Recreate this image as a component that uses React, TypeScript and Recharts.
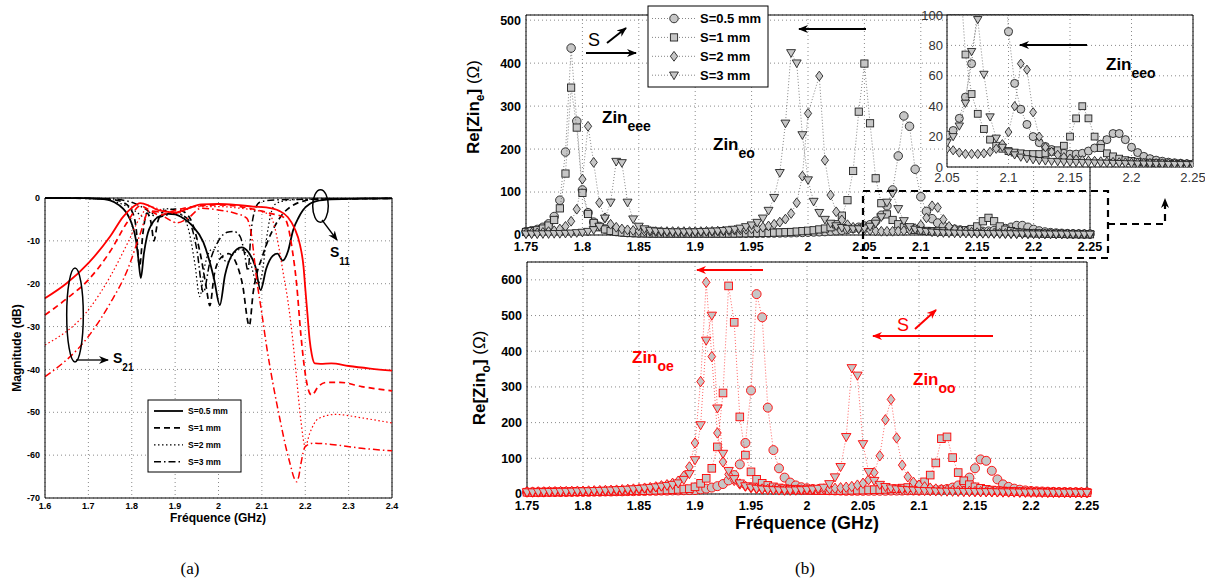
import React from 'react';
import {
  LineChart, Line, ScatterChart, Scatter, XAxis, YAxis, CartesianGrid, ReferenceLine,
} from 'recharts';

const SANS = '"Liberation Sans", Arial, Helvetica, sans-serif';
const SERIF = '"Liberation Serif", "DejaVu Serif", serif';

// ---------- (a) magnitude of S11 / S21 ----------
const FREQ_TICKS_A = [1.6, 1.7, 1.8, 1.9, 2, 2.1, 2.2, 2.3, 2.4];
const DB_TICKS = [-70, -60, -50, -40, -30, -20, -10, 0];
const SPACINGS = ['S=0.5 mm', 'S=1 mm', 'S=2 mm', 'S=3 mm'];

// S11, black
const s11F05 = [1.6, 1.7, 1.72, 1.74, 1.76, 1.78, 1.79, 1.8, 1.81, 1.815, 1.821, 1.828, 1.835, 1.85, 1.87, 1.885, 1.9, 1.92, 1.94, 1.965, 1.98, 1.99, 2.003, 2.015, 2.03, 2.053, 2.07, 2.085, 2.097, 2.11, 2.125, 2.136, 2.148, 2.16, 2.172, 2.185, 2.195, 2.21, 2.22, 2.25, 2.3, 2.4];
const s11Db05 = [0, -0.05, -0.15, -0.3, -1, -2.5, -3.8, -6, -10, -14, -18.7, -13, -9, -5.5, -4, -3.7, -3.8, -4.8, -6.5, -10.3, -15, -19, -25, -18, -13.5, -11.5, -12.8, -16, -21.5, -16.5, -13.5, -13, -14.6, -12.5, -7.5, -4.5, -2.8, -1.4, -0.9, -0.4, -0.2, -0.1];
const s11F1 = [1.6, 1.7, 1.75, 1.78, 1.8, 1.81, 1.818, 1.826, 1.835, 1.845, 1.851, 1.86, 1.875, 1.9, 1.92, 1.94, 1.96, 1.972, 1.98, 1.99, 2.005, 2.023, 2.04, 2.055, 2.071, 2.08, 2.09, 2.1, 2.11, 2.13, 2.15, 2.17, 2.2, 2.22, 2.3, 2.4];
const s11Db1 = [0, -0.1, -0.3, -1, -3, -7, -16, -8, -3.5, -6, -10, -5.5, -3, -2.6, -3.2, -6, -14, -21, -25.1, -18, -14, -13, -15, -20, -29.8, -22, -17, -14, -11, -6.5, -3.5, -1.8, -0.6, -0.3, -0.2, -0.1];
const s11F2 = [1.6, 1.72, 1.76, 1.79, 1.81, 1.83, 1.85, 1.88, 1.91, 1.93, 1.945, 1.957, 1.968, 1.985, 2.0, 2.02, 2.035, 2.05, 2.07, 2.09, 2.1, 2.11, 2.12, 2.13, 2.15, 2.2, 2.4];
const s11Db2 = [0, -0.2, -0.8, -2, -3.2, -4.5, -3.5, -2.5, -3.5, -7, -15, -23, -16, -12, -12.5, -15, -13, -12, -14, -20, -18, -10, -4, -1.5, -0.7, -0.3, -0.1];
const s11F3 = [1.6, 1.75, 1.8, 1.83, 1.86, 1.88, 1.9, 1.93, 1.95, 1.965, 1.98, 2.0, 2.02, 2.035, 2.05, 2.06, 2.068, 2.075, 2.085, 2.095, 2.12, 2.2, 2.4];
const s11Db3 = [0, -0.2, -1, -2.5, -4.5, -4, -3.5, -5, -12, -22, -15, -10, -8, -7.8, -9, -13, -17, -8, -2.5, -1, -0.5, -0.3, -0.1];

// S21, red
const s21F05 = [1.6, 1.65, 1.7, 1.75, 1.78, 1.8, 1.82, 1.84, 1.86, 1.88, 1.9, 1.93, 1.96, 2.0, 2.04, 2.08, 2.11, 2.14, 2.16, 2.175, 2.188, 2.196, 2.2, 2.205, 2.21, 2.215, 2.222, 2.235, 2.26, 2.3, 2.35, 2.4];
const s21Db05 = [-23.4, -19.9, -15.2, -9, -4.4, -2.3, -1.2, -1.8, -2.8, -3.2, -3.4, -2.4, -1.5, -1.4, -1.6, -2, -2.2, -3, -4.5, -7, -11, -16, -21, -27, -33, -36.5, -38.6, -38.7, -38.6, -39.2, -39.8, -40.3];
const s21F1 = [1.6, 1.65, 1.7, 1.75, 1.79, 1.82, 1.84, 1.865, 1.89, 1.92, 1.95, 2.0, 2.05, 2.08, 2.12, 2.15, 2.16, 2.17, 2.18, 2.19, 2.2, 2.21, 2.215, 2.23, 2.25, 2.28, 2.33, 2.4];
const s21Db1 = [-27.3, -23.5, -19.1, -12.5, -5.6, -1.8, -2.8, -4, -3.2, -2.4, -1.9, -1.6, -2, -2.6, -3.6, -4.5, -6.5, -12, -20, -32, -41, -45.5, -46, -44, -43, -43, -44, -45];
const s21F2 = [1.6, 1.7, 1.75, 1.79, 1.82, 1.84, 1.87, 1.9, 1.95, 2.0, 2.05, 2.1, 2.12, 2.13, 2.14, 2.15, 2.16, 2.17, 2.18, 2.19, 2.2, 2.21, 2.23, 2.27, 2.33, 2.4];
const s21Db2 = [-34.3, -26.1, -18.4, -10.6, -4.4, -2, -2.8, -3.6, -2, -2, -2.4, -3.2, -4.2, -7, -12, -18, -24, -32, -42, -52, -58, -55, -51.5, -50.5, -51.3, -52.5];
const s21F3 = [1.6, 1.7, 1.75, 1.79, 1.82, 1.84, 1.86, 1.88, 1.905, 1.93, 1.96, 2.0, 2.04, 2.065, 2.075, 2.088, 2.1, 2.111, 2.125, 2.142, 2.155, 2.165, 2.175, 2.18, 2.185, 2.19, 2.2, 2.22, 2.26, 2.33, 2.4];
const s21Db3 = [-41.7, -32.3, -24.6, -16.8, -8.2, -3, -3.2, -4.7, -5.8, -4.7, -2.4, -2.8, -3.6, -4.7, -8, -19, -27, -34.7, -43, -51.8, -58, -62, -65.5, -66.2, -65, -62, -58, -57.2, -57.5, -58.4, -59];

const S11_CURVES = [[s11F05, s11Db05], [s11F1, s11Db1], [s11F2, s11Db2], [s11F3, s11Db3]];
const S21_CURVES = [[s21F05, s21Db05], [s21F1, s21Db1], [s21F2, s21Db2], [s21F3, s21Db3]];
const DASHES = [undefined, '6 4', '1.5 2.5', '7 3 1.5 3'];
const WIDTHS = [1.8, 1.7, 1.2, 1.5];

// ---------- (b) Re[Zin] vs frequency, 1.75 -> 2.25 GHz every 5 MHz ----------
const F_START = 1.75;
const F_STEP = 0.005;
const FREQ_TICKS_B = [1.75, 1.8, 1.85, 1.9, 1.95, 2, 2.05, 2.1, 2.15, 2.2, 2.25];
const ZE_TICKS = [0, 100, 200, 300, 400, 500];
const ZO_TICKS = [0, 100, 200, 300, 400, 500, 600];
const INSET_F_TICKS = [2.05, 2.1, 2.15, 2.2, 2.25];
const INSET_Z_TICKS = [0, 20, 40, 60, 80, 100];
const MARKERS = ['circle', 'square', 'diamond', 'triangle'];

// even mode, Re[Zin_e]  (null = point above the axis limit)
const zinE05 = [
  8, 10, 13, 18, 26, 43, 81, 193, 435, 265,
  105, 52, 30, 20, 14, 10, 8, 6.5, 5.5, 5,
  4.5, 4.5, 4, 4, 4, 4, 4, 4, 4, 4,
  4, 4, 4, 4, 4, 4, 4, 4, 4, 4,
  4, 4, 4.2, 4.4, 4.6, 4.8, 5, 5.3, 5.6, 6,
  6.5, 7, 7.5, 8, 9, 10, 11, 13, 15, 18,
  21, 24, 32, 46, 68, 105, 184, 277, 253, 153,
  89, 55, 38, 28, 20, 16, 13.5, 11.5, 10, 9,
  8.5, 8.5, 9, 10.5, 12.5, 15, 18, 22, 22, 18,
  13, 9.5, 7, 5.5, 4.5, 3.8, 3.2, 2.8, 2.5, 2.2,
  2,
];
const zinE1 = [
  7, 9, 11, 15, 22, 35, 62, 143, 343, 250,
  98, 49, 28, 18, 13, 9.5, 7.5, 6, 5, 4.5,
  4, 4, 3.5, 3.5, 3.5, 3.5, 3.5, 3.5, 3.5, 3.5,
  3.5, 3.5, 3.5, 3.5, 3.5, 3.5, 3.5, 3.5, 4, 4,
  4.5, 4.5, 5, 5, 5.5, 6, 6.5, 7, 8, 9,
  10, 11, 13, 15, 18, 25, 45, 81, 149, 287,
  399, 260, 132, 74, 48, 35, 25, 18, 14, 12,
  10.5, 9.5, 9, 8.5, 8.5, 8.5, 9, 10, 11, 14,
  20, 32, 40, 32, 20, 12.5, 9, 7, 5.5, 4.5,
  4, 3.5, 3, 2.8, 2.6, 2.4, 2.2, 2.1, 2, 1.9,
  1.8,
];
const zinE2 = [
  4, 4.5, 5, 6, 8, 10, 14, 20, 32, 60,
  130, 253, 169, 75, 40, 25, 18, 14, 12, 10.5,
  9.5, 9, 8.5, 8, 8, 8, 8, 8, 8, 8,
  8, 8, 8.5, 8.5, 9, 9.5, 10, 11, 12, 13,
  14.5, 16, 18, 21, 25, 30, 37, 50, 75, 137,
  283, null, 370, 174, 93, 54, 35, 24, 18, 14,
  12, 11, 9.5, 8.6, 8.6, 8.6, 9, 10, 12, 15,
  23, 40, 68, 64, 36, 20, 13, 10, 8, 6.5,
  5.5, 5, 4.5, 4.2, 4, 3.7, 3.5, 3.3, 3.1, 3,
  2.9, 2.8, 2.7, 2.6, 2.5, 2.4, 2.3, 2.2, 2.1, 2,
  2,
];
const zinE3 = [
  2, 2, 2, 2.5, 2.5, 3, 3, 3.5, 4, 5,
  6, 8, 12, 20, 39, 76, 171, 168, 76, 37,
  20, 14, 10.5, 9, 8, 7.5, 7, 7, 7, 7,
  7, 7.5, 8, 8.5, 9, 10, 11.5, 13, 15.5, 19,
  23, 29, 39, 57, 87, 145, 260, 424, 400, 233,
  128, 78, 52, 36, 27, 21, 17, 15, 14, 14,
  16, 20, 27, 42, 76, 97, 61, 33, 19, 13,
  10, 8, 6.5, 5.5, 4.8, 4.3, 4, 3.7, 3.5, 3.3,
  3.1, 3, 2.9, 2.8, 2.7, 2.6, 2.5, 2.4, 2.3, 2.2,
  2.1, 2, 2, 1.9, 1.8, 1.8, 1.7, 1.7, 1.6, 1.6,
  1.5,
];

// odd mode, Re[Zin_o]
const zinO05 = [
  5, 5, 5, 5, 5.5, 5.5, 5.5, 5.5, 6, 6,
  6, 6, 6.5, 6.5, 7, 7, 7.5, 7.5, 8, 8,
  8.5, 8.5, 9, 9, 9.5, 9.5, 10, 10, 10.5, 11,
  11, 13, 15, 18, 22, 28, 38, 53, 83, 143,
  290, 560, 495, 242, 123, 72, 46, 32, 24, 19,
  16, 14, 12.5, 11.5, 10.5, 10, 9.5, 9, 9, 9,
  9, 9, 9, 9, 9, 9.5, 9.5, 9.5, 10, 10,
  10, 10.5, 11, 11.5, 12.5, 14, 18, 24, 32, 46,
  72, 97, 93, 65, 41, 27, 20, 15, 12, 10,
  8.5, 7.5, 7, 6.5, 6, 5.5, 5.5, 5, 5, 4.5,
  4.5,
];
const zinO1 = [
  5, 5, 5, 5.5, 5.5, 5.5, 6, 6, 6, 6.5,
  6.5, 6.5, 7, 7, 7.5, 7.5, 8, 8, 8.5, 9,
  9, 9.5, 10, 10.5, 11, 11.5, 12, 13, 14, 15,
  20, 30, 44, 72, 132, 283, 583, 481, 216, 109,
  62, 41, 30, 24, 20, 17, 15, 13.5, 12.5, 11.5,
  11, 10.5, 10, 10, 10, 10, 10, 10.5, 10.5, 11,
  11, 11.5, 12, 12.5, 13, 14, 15, 16.5, 18, 20,
  25, 34, 53, 87, 155, 160, 102, 60, 37, 26,
  20, 16, 13, 11, 9.5, 8.5, 7.5, 7, 6.5, 6,
  5.5, 5.5, 5, 5, 4.5, 4.5, 4.5, 4, 4, 4,
  4,
];
const zinO2 = [
  5.5, 5.5, 6, 6, 6.5, 6.5, 7, 7, 7.5, 8,
  8, 8.5, 9, 9.5, 10, 10.5, 11, 12, 13, 14,
  15, 16.5, 18, 20, 23, 26, 30, 36, 50, 76,
  143, 315, 593, 385, 171, 90, 55, 38, 28, 22,
  18, 15.5, 14, 13, 12, 11.5, 11, 11, 11, 11.5,
  12, 12.5, 13, 14, 15, 16, 17.5, 19, 21, 25,
  30, 40, 60, 107, 208, 265, 157, 81, 48, 33,
  25, 20, 16.5, 14, 12, 10.5, 9.5, 8.5, 8, 7.5,
  7, 6.5, 6.5, 6, 6, 5.5, 5.5, 5.5, 5, 5,
  5, 5, 4.5, 4.5, 4.5, 4.5, 4, 4, 4, 4,
  4,
];
const zinO3 = [
  5, 5, 5.5, 5.5, 6, 6, 6.5, 6.5, 7, 7.5,
  8, 8, 8.5, 9, 9.5, 10, 11, 11.5, 12.5, 13.5,
  14.5, 16, 17.5, 19, 21, 23, 26, 30, 40, 56,
  95, 193, 430, 500, 240, 113, 65, 42, 30, 22,
  18, 15, 13, 12, 11, 10.5, 10, 10, 10.5, 11,
  12, 13, 15, 18, 28, 47, 76, 160, 353, 332,
  140, 62, 37, 26, 20, 16, 13.5, 12, 11, 10,
  9, 8.5, 8, 7.5, 7, 7, 6.5, 6.5, 6, 6,
  6, 5.5, 5.5, 5.5, 5, 5, 5, 5, 4.5, 4.5,
  4.5, 4.5, 4.5, 4, 4, 4, 4, 4, 4, 3.5,
  3.5,
];

const ZIN_E = [zinE05, zinE1, zinE2, zinE3];
const ZIN_O = [zinO05, zinO1, zinO2, zinO3];

const toLine = (f: number[], db: number[]) => f.map((x, i) => ({ f: x, db: db[i] }));
const toPoints = (vals: (number | null)[]) =>
  vals.flatMap((v, i) => (v == null ? [] : [{ f: +(F_START + i * F_STEP).toFixed(3), v }]));

function drawMarker(kind: string, cx: number, cy: number, size: number, stroke: string) {
  const r = size / 2;
  const p = { fill: '#c6c6c6', stroke, strokeWidth: 0.9 };
  if (kind === 'circle') return <circle cx={cx} cy={cy} r={r} {...p} />;
  if (kind === 'square') {
    const h = r * 0.85;
    return <rect x={cx - h} y={cy - h} width={2 * h} height={2 * h} {...p} />;
  }
  if (kind === 'diamond') {
    return <polygon points={`${cx},${cy - r * 1.15} ${cx + r * 0.85},${cy} ${cx},${cy + r * 1.15} ${cx - r * 0.85},${cy}`} {...p} />;
  }
  return <polygon points={`${cx - r * 1.05},${cy - r * 0.75} ${cx + r * 1.05},${cy - r * 0.75} ${cx},${cy + r * 1.05}`} {...p} />;
}

const shapeFor = (kind: string, size: number, stroke: string) => (props: any) =>
  props.cx == null || props.cy == null ? <g /> : drawMarker(kind, props.cx, props.cy, size, stroke);

const fmt = (v: number) => String(v);
const boldTick = (size: number) => ({ fontSize: size, fontWeight: 'bold', fill: '#000', fontFamily: SANS });
const grid = { stroke: '#8a8a8a', strokeDasharray: '1 3' };

function Sub({ x, y, main, sub, color = '#000', size = 17, subSize = 14 }: any) {
  return (
    <text x={x} y={y} fill={color} fontFamily={SANS} fontWeight="bold" fontSize={size}>
      {main}
      <tspan dy={8} fontSize={subSize}>{sub}</tspan>
    </text>
  );
}

export default function App() {
  return (
    <div style={{ position: 'absolute', left: 0, top: 0, width: 1213, height: 586, background: '#fff', fontFamily: SANS }}>
      {/* (a) */}
      <div style={{ position: 'absolute', left: 0, top: 180 }}>
        <LineChart width={410} height={350} margin={{ top: 18, right: 18, bottom: 7, left: 5 }}>
          <CartesianGrid {...grid} />
          <XAxis type="number" dataKey="f" domain={[1.6, 2.4]} ticks={FREQ_TICKS_A} interval={0}
            tickFormatter={fmt} height={25} tickLine={false} tickSize={3} tickMargin={2}
            axisLine={{ stroke: '#000' }} tick={boldTick(9)} />
          <YAxis type="number" domain={[-70, 0]} ticks={DB_TICKS} interval={0} width={40}
            tickLine={false} tickSize={3} tickMargin={2} axisLine={{ stroke: '#000' }} tick={boldTick(9)} />
          <ReferenceLine y={0} stroke="#000" />
          <ReferenceLine x={2.4} stroke="#000" />
          {S11_CURVES.map(([f, db], i) => (
            <Line key={`s11-${i}`} data={toLine(f, db)} dataKey="db" type="monotone" stroke="#000"
              strokeWidth={WIDTHS[i]} strokeDasharray={DASHES[i]} dot={false} activeDot={false}
              isAnimationActive={false} />
          ))}
          {S21_CURVES.map(([f, db], i) => (
            <Line key={`s21-${i}`} data={toLine(f, db)} dataKey="db" type="monotone" stroke="#ff0000"
              strokeWidth={WIDTHS[i]} strokeDasharray={DASHES[i]} dot={false} activeDot={false}
              isAnimationActive={false} />
          ))}
        </LineChart>
      </div>

      {/* (b) top: even mode */}
      <div style={{ position: 'absolute', left: 440, top: 0 }}>
        <ScatterChart width={680} height={260} margin={{ top: 15, right: 30, bottom: 5, left: 6 }}>
          <CartesianGrid {...grid} />
          <XAxis type="number" dataKey="f" domain={[1.75, 2.25]} ticks={FREQ_TICKS_B} interval={0}
            tickFormatter={fmt} height={20} tickLine={false} tickSize={5} tickMargin={2}
            axisLine={{ stroke: '#000' }} tick={boldTick(12.5)} />
          <YAxis type="number" dataKey="v" domain={[0, 512]} ticks={ZE_TICKS} interval={0} width={80}
            tickLine={false} tickSize={4} tickMargin={1} axisLine={{ stroke: '#000' }} tick={boldTick(12.5)} />
          <ReferenceLine y={512} stroke="#000" />
          <ReferenceLine x={2.25} stroke="#000" />
          {ZIN_E.map((vals, i) => (
            <Scatter key={`e-${i}`} name={SPACINGS[i]} data={toPoints(vals)} fill="#c6c6c6"
              line={{ stroke: '#666', strokeWidth: 0.8, strokeDasharray: '1 2' }} lineType="joint"
              shape={shapeFor(MARKERS[i], 8.5, '#222')} isAnimationActive={false} />
          ))}
        </ScatterChart>
      </div>

      {/* (b) bottom: odd mode */}
      <div style={{ position: 'absolute', left: 440, top: 250 }}>
        <ScatterChart width={680} height={280} margin={{ top: 12, right: 33, bottom: 16, left: 6 }}>
          <CartesianGrid {...grid} />
          <XAxis type="number" dataKey="f" domain={[1.75, 2.25]} ticks={FREQ_TICKS_B} interval={0}
            tickFormatter={fmt} height={20} tickLine={false} tickSize={5} tickMargin={2}
            axisLine={{ stroke: '#000' }} tick={boldTick(12.5)} />
          <YAxis type="number" dataKey="v" domain={[0, 650]} ticks={ZO_TICKS} interval={0} width={81}
            tickLine={false} tickSize={4} tickMargin={1} axisLine={{ stroke: '#000' }} tick={boldTick(12.5)} />
          <ReferenceLine y={650} stroke="#000" />
          <ReferenceLine x={2.25} stroke="#000" />
          {ZIN_O.map((vals, i) => (
            <Scatter key={`o-${i}`} name={SPACINGS[i]} data={toPoints(vals)} fill="#c6c6c6"
              line={{ stroke: '#ff3b3b', strokeWidth: 0.8, strokeDasharray: '1 2' }} lineType="joint"
              shape={shapeFor(MARKERS[i], 9, '#ff0000')} isAnimationActive={false} />
          ))}
        </ScatterChart>
      </div>

      {/* (b) inset: zoom on Zin_eeo */}
      <div style={{ position: 'absolute', left: 905, top: 0 }}>
        <ScatterChart width={300} height={190} margin={{ top: 15, right: 12, bottom: 5, left: 6 }}>
          <CartesianGrid {...grid} fill="#fff" fillOpacity={1} />
          <XAxis type="number" dataKey="f" domain={[2.05, 2.25]} allowDataOverflow ticks={INSET_F_TICKS}
            interval={0} tickFormatter={fmt} height={18} tickLine={false} tickSize={4} tickMargin={2}
            axisLine={{ stroke: '#000' }} tick={{ fontSize: 13, fill: '#333', fontFamily: SANS }} />
          <YAxis type="number" dataKey="v" domain={[0, 100]} allowDataOverflow ticks={INSET_Z_TICKS}
            interval={0} width={36} tickLine={false} tickSize={3} tickMargin={1}
            axisLine={{ stroke: '#000' }} tick={{ fontSize: 13, fill: '#333', fontFamily: SANS }} />
          <ReferenceLine y={100} stroke="#000" />
          <ReferenceLine x={2.25} stroke="#000" />
          {ZIN_E.map((vals, i) => (
            <Scatter key={`i-${i}`} data={toPoints(vals)} fill="#c6c6c6"
              line={{ stroke: '#666', strokeWidth: 0.8, strokeDasharray: '1 2' }} lineType="joint"
              shape={shapeFor(MARKERS[i], 8, '#222')} isAnimationActive={false} />
          ))}
        </ScatterChart>
      </div>

      {/* annotations */}
      <svg width={1213} height={586} style={{ position: 'absolute', left: 0, top: 0, pointerEvents: 'none' }}>
        <defs>
          <marker id="ahK" viewBox="0 0 10 10" refX="9" refY="5" markerWidth="10" markerHeight="10"
            markerUnits="userSpaceOnUse" orient="auto">
            <path d="M0,1 L10,5 L0,9 L3,5 Z" fill="#000" />
          </marker>
          <marker id="ahR" viewBox="0 0 10 10" refX="9" refY="5" markerWidth="10" markerHeight="10"
            markerUnits="userSpaceOnUse" orient="auto">
            <path d="M0,1 L10,5 L0,9 L3,5 Z" fill="#ff0000" />
          </marker>
        </defs>

        {/* (a) titles */}
        <text transform="translate(21,348) rotate(-90)" textAnchor="middle" fontFamily={SANS}
          fontWeight="bold" fontSize={12}>Magnitude (dB)</text>
        <text x={218} y={522} textAnchor="middle" fontFamily={SANS} fontWeight="bold" fontSize={12}>Fréquence (GHz)</text>
        <ellipse cx={320.5} cy={206} rx={7.8} ry={16.3} fill="none" stroke="#000" strokeWidth={1.5} />
        <line x1={322} y1={220} x2={337} y2={240} stroke="#000" strokeWidth={1.3} markerEnd="url(#ahK)" />
        <Sub x={330} y={257} main="S" sub="11" size={14} subSize={10} />
        <ellipse cx={75} cy={315} rx={8.3} ry={47} fill="none" stroke="#000" strokeWidth={1.5} />
        <line x1={76} y1={360} x2={108} y2={360} stroke="#000" strokeWidth={1.3} markerEnd="url(#ahK)" />
        <Sub x={113} y={363} main="S" sub="21" size={14} subSize={10} />

        {/* (a) legend */}
        <rect x={148} y={400} width={93} height={72} fill="#fff" stroke="#000" strokeWidth={1} />
        {SPACINGS.map((s, i) => {
          const y = 411 + i * 16.9;
          return (
            <g key={s}>
              <line x1={154} x2={183} y1={y} y2={y} stroke="#000" strokeWidth={WIDTHS[i]} strokeDasharray={DASHES[i]} />
              <text x={188} y={y + 3} fontFamily={SANS} fontWeight="bold" fontSize={8.5}>{s}</text>
            </g>
          );
        })}

        {/* (b) titles */}
        <text transform="translate(479,107) rotate(-90)" textAnchor="middle" fontFamily={SANS} fontSize={17}>
          <tspan fontWeight="bold">Re[Zin</tspan>
          <tspan fontWeight="bold" fontSize={12} dy={5}>e</tspan>
          <tspan fontWeight="bold" dy={-5}>]</tspan>
          <tspan> (Ω)</tspan>
        </text>
        <text transform="translate(485,378) rotate(-90)" textAnchor="middle" fontFamily={SANS} fontSize={17}>
          <tspan fontWeight="bold">Re[Zin</tspan>
          <tspan fontWeight="bold" fontSize={12} dy={5}>o</tspan>
          <tspan fontWeight="bold" dy={-5}>]</tspan>
          <tspan> (Ω)</tspan>
        </text>
        <text x={807} y={529} textAnchor="middle" fontFamily={SANS} fontWeight="bold" fontSize={18}>Fréquence (GHz)</text>

        {/* (b) legend */}
        <rect x={648} y={6} width={120} height={81} fill="#fff" stroke="#000" strokeWidth={1} />
        {SPACINGS.map((s, i) => {
          const y = 18.5 + i * 18.9;
          return (
            <g key={s}>
              <line x1={652} x2={696} y1={y} y2={y} stroke="#666" strokeWidth={0.8} strokeDasharray="1 2" />
              {drawMarker(MARKERS[i], 674, y, 8.5, '#222')}
              <text x={700} y={y + 4.5} fontFamily={SANS} fontWeight="bold" fontSize={13}>{s}</text>
            </g>
          );
        })}

        {/* (b) top annotations */}
        <text x={588} y={46} fontFamily={SANS} fontSize={18}>S</text>
        <line x1={607} y1={43} x2={626} y2={28} stroke="#000" strokeWidth={2} markerEnd="url(#ahK)" />
        <line x1={586} y1={53} x2={636} y2={53} stroke="#000" strokeWidth={2} markerEnd="url(#ahK)" />
        <line x1={866} y1={29} x2={799} y2={29} stroke="#000" strokeWidth={2} markerEnd="url(#ahK)" />
        <line x1={1087} y1={45} x2={1020} y2={45} stroke="#000" strokeWidth={2} markerEnd="url(#ahK)" />
        <Sub x={602} y={123} main="Zin" sub="eee" />
        <Sub x={713} y={150} main="Zin" sub="eo" />
        <Sub x={1106} y={70} main="Zin" sub="eeo" />

        {/* dashed zoom box */}
        <rect x={863} y={191} width={245} height={67} fill="none" stroke="#000" strokeWidth={2.2} strokeDasharray="7 5" />
        <polyline points="1108,224 1165,224 1165,199" fill="none" stroke="#000" strokeWidth={2.2} strokeDasharray="7 5"
          markerEnd="url(#ahK)" />

        {/* (b) bottom annotations */}
        <line x1={763} y1={270} x2={697} y2={270} stroke="#ff0000" strokeWidth={2} markerEnd="url(#ahR)" />
        <text x={897} y={331} fill="#ff0000" fontFamily={SANS} fontSize={18}>S</text>
        <line x1={915} y1={329} x2={936} y2={310} stroke="#ff0000" strokeWidth={2} markerEnd="url(#ahR)" />
        <line x1={993} y1={336} x2={873} y2={336} stroke="#ff0000" strokeWidth={2} markerEnd="url(#ahR)" />
        <Sub x={632} y={363} main="Zin" sub="oe" color="#ff0000" />
        <Sub x={913} y={385} main="Zin" sub="oo" color="#ff0000" />

        {/* captions */}
        <text x={190} y={574} textAnchor="middle" fontFamily={SERIF} fontSize={17}>(a)</text>
        <text x={805} y={574} textAnchor="middle" fontFamily={SERIF} fontSize={17}>(b)</text>
      </svg>
    </div>
  );
}
